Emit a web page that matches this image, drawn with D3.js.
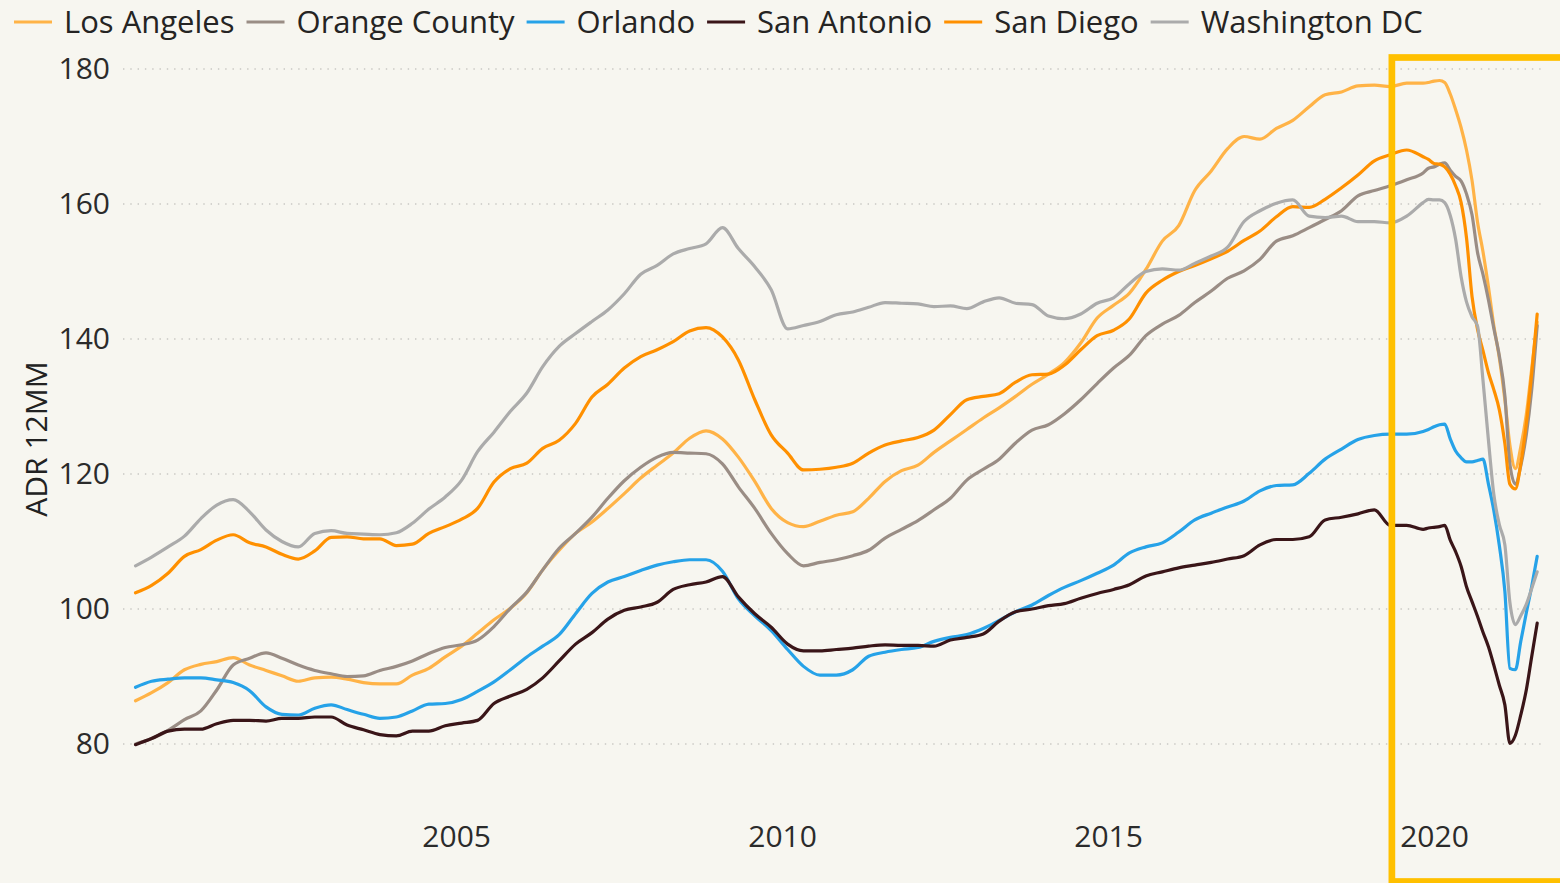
<!DOCTYPE html>
<html>
<head>
<meta charset="utf-8">
<script src="https://cdn.jsdelivr.net/npm/d3@7"></script>
<style>
  body { margin: 0; background: #f7f6f0; }
  svg text { font-family: "Open Sans", "Noto Sans", sans-serif; }
</style>
</head>
<body>
<script>
// ADR 12MM by market, quarterly points then monthly through the 2020-21 dip

var months = [
  "2000-02","2000-05","2000-08","2000-11", "2001-02","2001-05","2001-08","2001-11",
  "2002-02","2002-05","2002-08","2002-11", "2003-02","2003-05","2003-08","2003-11",
  "2004-02","2004-05","2004-08","2004-11", "2005-02","2005-05","2005-08","2005-11",
  "2006-02","2006-05","2006-08","2006-11", "2007-02","2007-05","2007-08","2007-11",
  "2008-02","2008-05","2008-08","2008-11", "2009-02","2009-05","2009-08","2009-11",
  "2010-02","2010-05","2010-08","2010-11", "2011-02","2011-05","2011-08","2011-11",
  "2012-02","2012-05","2012-08","2012-11", "2013-02","2013-05","2013-08","2013-11",
  "2014-02","2014-05","2014-08","2014-11", "2015-02","2015-05","2015-08","2015-11",
  "2016-02","2016-05","2016-08","2016-11", "2017-02","2017-05","2017-08","2017-11",
  "2018-02","2018-05","2018-08","2018-11", "2019-02","2019-05","2019-08","2019-11",
  "2019-12","2020-01","2020-02","2020-03","2020-04","2020-05","2020-06","2020-07",
  "2020-08","2020-09","2020-10","2020-11","2020-12","2021-01","2021-02","2021-03",
  "2021-04","2021-05","2021-06","2021-07","2021-08"
];

var losAngeles = [
  86.4,87.6,89.1,91.0, 91.8,92.2,92.8,91.7, 90.9,90.1,89.3,89.8, 89.9,89.6,89.1,88.9,
  88.9,90.2,91.2,92.9, 94.5,96.4,98.4,100.1, 102.4,105.8,108.7,111.2, 112.9,114.9,117.1,119.4,
  121.3,123.1,125.3,126.4, 125.2,122.5,118.9,114.9, 112.8,112.2,113.0,113.9, 114.4,116.4,118.9,120.5,
  121.3,123.2,124.9,126.6, 128.3,129.8,131.5,133.3, 134.8,136.5,139.4,143.1, 145.0,146.8,150.3,154.5,
  156.8,162.0,164.9,168.2, 170.0,169.6,171.2,172.4, 174.4,176.2,176.6,177.5, 177.6,177.4,177.9,177.9,
  178.0,178.2,178.3,178.0,176.3,174.0,171.3,168.0,163.5,157.3,153.0,147.7,142.0,137.2,131.0,124.3,
  120.8,124.0,128.8,135.5,142.5
];
var orangeCounty = [
  80.0,80.8,82.0,83.6, 84.9,88.0,91.7,92.7, 93.5,92.7,91.7,90.9, 90.4,90.0,90.1,90.9,
  91.5,92.3,93.4,94.3, 94.7,95.4,97.4,100.1, 102.5,105.8,109.0,111.2, 113.6,116.4,119.0,121.0,
  122.5,123.2,123.1,123.0, 121.5,118.1,114.9,111.2, 108.2,106.4,106.9,107.3, 107.9,108.7,110.5,111.8,
  113.1,114.7,116.4,119.1, 120.7,122.2,124.6,126.5, 127.3,128.9,131.0,133.4, 135.7,137.6,140.5,142.2,
  143.5,145.4,147.1,149.0, 150.1,151.8,154.5,155.3, 156.5,157.7,159.0,161.2, 162.0,162.7,163.6,164.6,
  165.3,165.5,165.9,166.1,165.0,164.1,163.4,161.5,158.4,152.8,149.6,145.8,141.6,137.5,131.6,121.5,
  118.5,121.2,125.8,132.4,142.0
];
var orlando = [
  88.4,89.3,89.6,89.8, 89.8,89.5,89.1,87.9, 85.5,84.4,84.3,85.3, 85.8,85.1,84.4,83.8,
  84.0,84.9,85.9,86.0, 86.6,87.8,89.2,91.0, 92.9,94.5,96.2,99.3, 102.3,104.0,104.8,105.7,
  106.5,107.0,107.3,107.3, 105.6,101.5,99.0,96.8, 94.0,91.5,90.2,90.2, 91.0,93.0,93.6,94.0,
  94.3,95.2,95.8,96.2, 97.1,98.3,99.6,100.6, 102.0,103.2,104.2,105.3, 106.5,108.3,109.2,109.8,
  111.4,113.2,114.2,115.1, 116.0,117.5,118.3,118.4, 120.1,122.2,123.7,125.1, 125.7,125.9,125.9,126.3,
  126.6,127.0,127.3,127.4,125.2,123.4,122.4,121.8,121.8,122.0,122.2,118.5,114.6,109.4,102.6,91.2,
  91.0,95.2,99.4,103.3,107.8
];
var sanAntonio = [
  79.9,80.8,81.9,82.2, 82.2,83.0,83.5,83.5, 83.4,83.8,83.8,84.0, 84.0,82.8,82.1,81.4,
  81.2,81.9,81.9,82.7, 83.1,83.5,86.0,87.1, 88.1,89.8,92.3,94.8, 96.5,98.5,99.8,100.3,
  101.0,102.9,103.6,104.0, 104.8,101.8,99.3,97.3, 94.8,93.8,93.8,94.0, 94.2,94.5,94.7,94.6,
  94.6,94.5,95.4,95.8, 96.3,98.2,99.6,100.0, 100.5,100.8,101.6,102.3, 102.9,103.6,104.9,105.5,
  106.1,106.5,106.9,107.4, 107.9,109.5,110.3,110.3, 110.7,113.2,113.6,114.1, 114.7,112.4,112.4,111.8,
  112.0,112.1,112.2,112.4,110.2,108.5,106.3,103.3,101.1,98.9,96.6,94.4,91.7,88.7,85.8,80.1,
  81.3,84.3,88.0,92.9,97.9
];
var sanDiego = [
  102.4,103.5,105.3,107.8, 108.8,110.2,111.0,109.8, 109.2,108.1,107.4,108.6, 110.6,110.7,110.4,110.4,
  109.4,109.6,111.2,112.2, 113.3,114.9,118.8,120.8, 121.6,123.8,125.0,127.5, 131.4,133.3,135.7,137.4,
  138.4,139.6,141.2,141.7, 140.3,136.9,131.0,125.8, 123.1,120.6,120.7,121.0, 121.6,123.1,124.3,124.9,
  125.4,126.5,128.8,131.0, 131.5,131.9,133.6,134.7, 134.8,136.1,138.4,140.5, 141.3,143.0,146.8,148.7,
  150.0,150.9,151.9,153.0, 154.6,156.0,158.1,159.6, 159.5,160.7,162.4,164.3, 166.4,167.3,168.0,167.0,
  166.6,166.0,165.9,165.5,164.4,162.7,160.2,155.0,146.3,141.4,138.3,135.0,132.5,129.5,124.5,118.5,
  117.8,121.5,127.4,134.8,143.7
];
var washingtonDC = [
  106.4,107.7,109.2,110.8, 113.4,115.4,116.2,114.4, 111.7,110.0,109.2,111.2, 111.6,111.2,111.1,111.0,
  111.3,112.7,114.8,116.6, 119.1,123.3,126.2,129.3, 132.0,135.9,138.9,140.8, 142.6,144.3,146.7,149.6,
  150.9,152.6,153.4,154.1, 156.5,153.4,150.7,147.3, 141.5,142.0,142.6,143.6, 144.0,144.7,145.4,145.3,
  145.2,144.8,144.9,144.5, 145.5,146.1,145.3,145.1, 143.4,143.0,143.7,145.3, 146.1,148.2,150.0,150.4,
  150.2,151.2,152.3,153.6, 157.4,159.0,160.1,160.6, 158.2,158.0,158.2,157.4, 157.4,157.2,158.2,160.2,
  160.7,160.6,160.6,160.2,158.3,154.8,149.2,145.5,143.3,141.9,134.0,125.0,117.0,112.5,109.5,101.0,
  97.7,99.0,100.7,103.0,105.5
];

var markets = ["Los Angeles", "Orange County", "Orlando", "San Antonio", "San Diego", "Washington DC"];
var seriesValues = [losAngeles, orangeCounty, orlando, sanAntonio, sanDiego, washingtonDC];
var colors = ["#ffb347", "#9a8d85", "#26a2e8", "#3a1518", "#ff9000", "#ababab"];

var yTicks = [80, 100, 120, 140, 160, 180];
var xTickYears = ["2005", "2010", "2015", "2020"];
var highlightFrom = "2019-05-10"; // start of the yellow highlight box

var width = 1560, height = 883;
var plotLeft = 123, plotRight = 1545;

var parseMonth = d3.timeParse("%Y-%m");
var parseDay = d3.timeParse("%Y-%m-%d");
var parseYear = d3.timeParse("%Y");

var svg = d3.select("body").append("svg")
    .attr("width", width)
    .attr("height", height);

svg.append("rect")
    .attr("width", width)
    .attr("height", height)
    .attr("fill", "#f7f6f0");

//Define Scales
var xScale = d3.scaleTime()
    .domain([parseYear("2000"), parseYear("2020")])
    .range([130, 1434]);

var yScale = d3.scaleLinear()
    .domain([80, 180])
    .range([744, 69]);

// dotted gridlines
svg.selectAll(".grid")
    .data(yTicks)
    .enter().append("line")
    .attr("class", "grid")
    .attr("x1", plotLeft)
    .attr("x2", plotRight)
    .attr("y1", function(d) { return yScale(d); })
    .attr("y2", function(d) { return yScale(d); })
    .attr("stroke", "#c9c8c3")
    .attr("stroke-width", 1.3)
    .attr("stroke-dasharray", "1.4 5.9");

// y axis labels
var gY = svg.append("g")
    .attr("transform", "translate(" + plotLeft + ",0)")
    .call(d3.axisLeft(yScale).tickValues(yTicks).tickSize(0).tickPadding(13));
gY.select(".domain").remove();
gY.selectAll("text")
    .attr("font-size", "30px")
    .attr("fill", "#2b2b2b");

// x axis labels
var gX = svg.append("g")
    .attr("transform", "translate(0,826)")
    .call(d3.axisBottom(xScale)
        .tickValues(xTickYears.map(parseYear))
        .tickFormat(d3.timeFormat("%Y"))
        .tickSize(0).tickPadding(0));
gX.select(".domain").remove();
gX.selectAll("text")
    .attr("font-size", "30px")
    .attr("fill", "#2b2b2b");

// axis title
svg.append("text")
    .attr("transform", "translate(47,439) rotate(-90)")
    .style("text-anchor", "middle")
    .attr("font-size", "30px")
    .attr("fill", "#222")
    .text("ADR 12MM");

//Draw lines
var dates = months.map(parseMonth);
var line = d3.line()
    .x(function(d) { return xScale(d.date); })
    .y(function(d) { return yScale(d.value); })
    .curve(d3.curveMonotoneX);

var seriesData = markets.map(function(name, i) {
    return {
        name: name,
        color: colors[i],
        points: seriesValues[i].map(function(v, j) { return {date: dates[j], value: v}; })
    };
});

svg.selectAll(".series")
    .data(seriesData)
    .enter().append("path")
    .attr("class", "series")
    .attr("d", function(d) { return line(d.points); })
    .attr("fill", "none")
    .attr("stroke", function(d) { return d.color; })
    .attr("stroke-width", 3.2)
    .attr("stroke-linejoin", "round")
    .attr("stroke-linecap", "round");

// legend across the top
var legend = svg.append("g").attr("class", "legend");
var lx = 14;
markets.forEach(function(name, i) {
    legend.append("line")
        .attr("x1", lx).attr("x2", lx + 38)
        .attr("y1", 22).attr("y2", 22)
        .attr("stroke", colors[i])
        .attr("stroke-width", 3);
    var t = legend.append("text")
        .attr("x", lx + 50)
        .attr("y", 22)
        .attr("dy", "0.35em")
        .attr("font-size", "31px")
        .attr("fill", "#252423")
        .text(name);
    lx += 50 + t.node().getComputedTextLength() + 12;
});

// yellow highlight box
var hx = xScale(parseDay(highlightFrom));
svg.append("rect")
    .attr("x", hx)
    .attr("y", 57.5)
    .attr("width", width - hx + 20)
    .attr("height", 824)
    .attr("fill", "none")
    .attr("stroke", "#ffc000")
    .attr("stroke-width", 6.7);
</script>
</body>
</html>
